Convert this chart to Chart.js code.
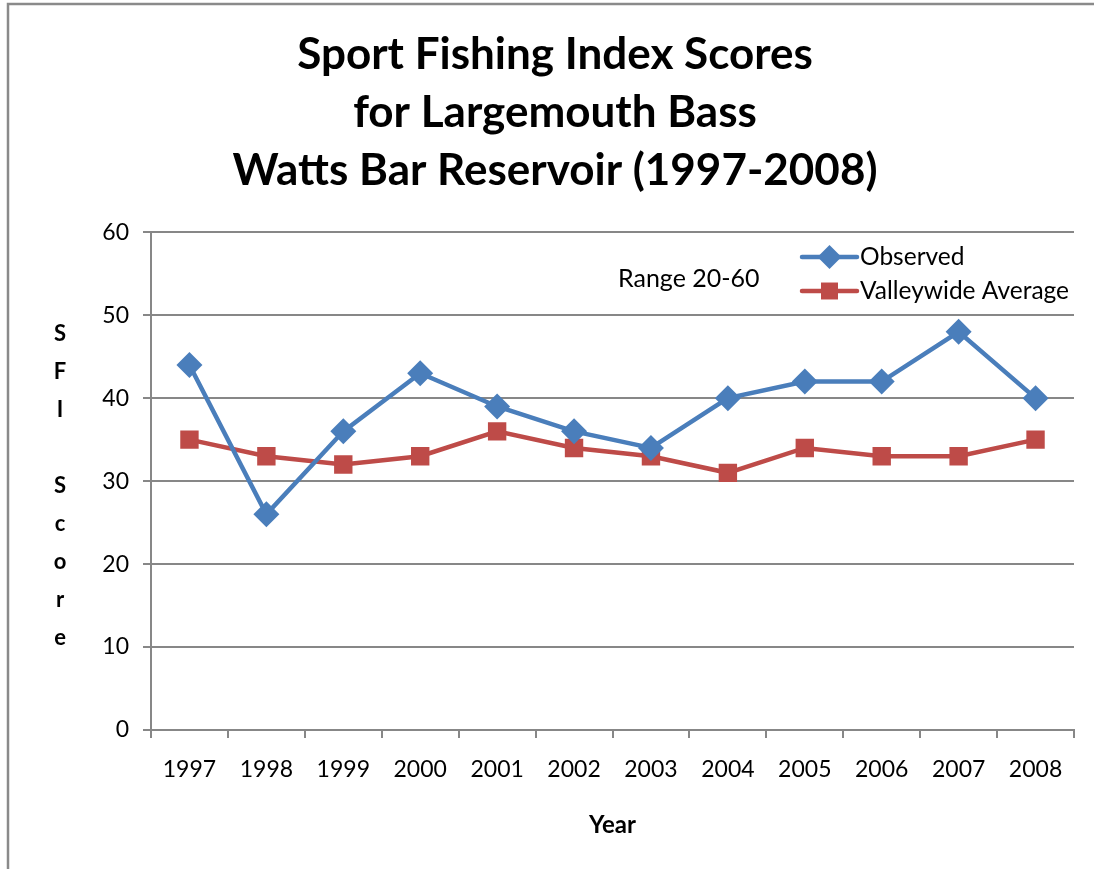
<!DOCTYPE html>
<html>
<head>
<meta charset="utf-8">
<script src="https://cdn.jsdelivr.net/npm/chart.js@4/dist/chart.umd.min.js"></script>
<style>
  html, body { margin: 0; padding: 0; background: #fff; }
  #wrap { width: 1094px; height: 869px; position: relative; }
</style>
</head>
<body>
<div id="wrap"><canvas id="sfi-canvas" width="1094" height="869"></canvas></div>
<script>
const YEARS = ['1997', '1998', '1999', '2000', '2001', '2002', '2003', '2004', '2005', '2006', '2007', '2008']
const OBSERVED = [44, 26, 36, 43, 39, 36, 34, 40, 42, 42, 48, 40]
const VALLEYWIDE = [35, 33, 32, 33, 36, 34, 33, 31, 34, 33, 33, 35]
const Y_TICKS = [0, 10, 20, 30, 40, 50, 60]
const TITLE_LINES = ['Sport Fishing Index Scores', 'for Largemouth Bass', 'Watts Bar Reservoir (1997-2008)']
const Y_TITLE = ['S', 'F', 'I', '', 'S', 'c', 'o', 'r', 'e']
const NOTE = 'Range 20-60'

const FONT = 'Lato, "Open Sans", sans-serif'
const BLUE = '#4A7EBB'
const RED = '#BE4B48'
const GRID = '#878787'

// frame, y-axis title, note and legend are drawn by hand
const extras = {
  id: 'extras',
  beforeDraw(chart){
    const ctx = chart.ctx
    ctx.save()
    ctx.fillStyle = '#fff'
    ctx.fillRect(0, 0, chart.width, chart.height)
    ctx.strokeStyle = '#8a8a8a'
    ctx.lineWidth = 2.5
    ctx.beginPath()
    ctx.moveTo(8, chart.height)
    ctx.lineTo(8, 4)
    ctx.lineTo(chart.width, 4)
    ctx.stroke()
    ctx.restore()
  },
  afterDraw(chart){
    const ctx = chart.ctx
    const area = chart.chartArea
    ctx.save()
    // stacked y title
    ctx.fillStyle = '#000'
    ctx.font = 'bold 22px ' + FONT
    ctx.textAlign = 'center'
    ctx.textBaseline = 'middle'
    const step = 38
    const mid = (area.top + area.bottom) / 2 + 5
    Y_TITLE.forEach((ch, i) => {
      ctx.fillText(ch, 60, mid + (i - (Y_TITLE.length - 1) / 2) * step)
    })
    // note
    ctx.font = '25px ' + FONT
    ctx.textAlign = 'left'
    ctx.fillText(NOTE, 618, 279)
    // legend
    ctx.font = '24.5px ' + FONT
    const items = [
      {label: 'Observed', color: BLUE, style: 'rectRot', r: 12, y: 257},
      {label: 'Valleywide Average', color: RED, style: 'rect', r: 12, y: 291}
    ]
    items.forEach(it => {
      ctx.strokeStyle = it.color
      ctx.lineWidth = 4.5
      ctx.lineCap = 'round'
      ctx.beginPath()
      ctx.moveTo(802, it.y)
      ctx.lineTo(857, it.y)
      ctx.stroke()
      ctx.fillStyle = it.color
      Chart.helpers.drawPoint(ctx, {pointStyle: it.style, radius: it.r, borderWidth: 0}, 829.5, it.y)
      ctx.fillStyle = '#000'
      ctx.fillText(it.label, 860, it.y)
    })
    ctx.restore()
  }
}

new Chart(document.getElementById('sfi-canvas'), {
  type: 'line',
  data: {
    labels: YEARS,
    datasets: [{
      label: 'Observed',
      data: OBSERVED,
      borderColor: BLUE,
      backgroundColor: BLUE,
      borderWidth: 4.5,
      pointStyle: 'rectRot',
      pointRadius: 13,
      pointBorderWidth: 0,
      pointBackgroundColor: BLUE,
      tension: 0
    }, {
      label: 'Valleywide Average',
      data: VALLEYWIDE,
      borderColor: RED,
      backgroundColor: RED,
      borderWidth: 4.5,
      pointStyle: 'rect',
      pointRadius: 13,
      pointBorderWidth: 0,
      pointBackgroundColor: RED,
      tension: 0
    }]
  },
  options: {
    responsive: false,
    animation: false,
    layout: {padding: {left: 36, right: 20, top: 0, bottom: 0}},
    plugins: {
      legend: {display: false},
      tooltip: {enabled: false},
      title: {
        display: true,
        text: TITLE_LINES,
        color: '#000',
        font: {family: FONT, size: 44, weight: 'bold', lineHeight: 1.32},
        padding: {top: 26, bottom: 32}
      }
    },
    scales: {
      x: {
        offset: true,
        grid: {offset: true, drawOnChartArea: false, drawTicks: true, tickLength: 8, color: GRID, lineWidth: 2},
        border: {color: GRID, width: 2},
        ticks: {color: '#000', font: {family: FONT, size: 23}, padding: 18, maxRotation: 0},
        title: {
          display: true,
          text: 'Year',
          color: '#000',
          font: {family: FONT, size: 24, weight: 'bold', lineHeight: 1.2},
          padding: {top: 0, bottom: 29}
        },
        afterFit(scale){ scale.height = 139 }
      },
      y: {
        min: 0,
        max: 60,
        afterBuildTicks(scale){ scale.ticks = Y_TICKS.map(v => ({value: v})) },
        grid: {color: GRID, lineWidth: 2, tickLength: 8},
        border: {color: GRID, width: 2},
        ticks: {color: '#000', font: {family: FONT, size: 23}, padding: 14},
        afterFit(scale){ scale.width = 115 }
      }
    }
  },
  plugins: [extras]
})
</script>
</body>
</html>
